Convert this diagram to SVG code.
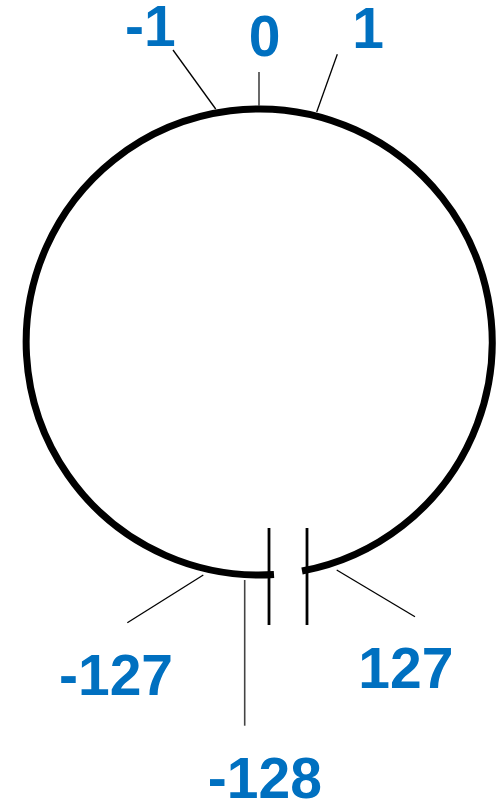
<svg xmlns="http://www.w3.org/2000/svg" width="500" height="803" viewBox="0 0 500 803">
<style>
.lbl{font-family:"Liberation Sans",Arial,sans-serif;font-weight:bold;font-size:57px;fill:#0070C0;text-anchor:middle}
.ring{fill:none;stroke:#000;stroke-width:7;stroke-linecap:butt}
.lead{stroke:#000;stroke-width:1.3;fill:none}
.lead2{stroke:#444;stroke-width:1.6;fill:none}
.bar{stroke:#000;stroke-width:2.8}
</style>
<rect width="500" height="803" fill="#fff"/>
<g id="ring">
<path class="ring" d="M 302 571 A 233 233 0 1 0 274 574.5"/>
</g>
<g id="gap">
<line class="bar" x1="269" y1="528" x2="269" y2="625"/>
<line class="bar" x1="307" y1="528" x2="307" y2="625"/>
</g>
<g id="connectors">
<line class="lead2" x1="259" y1="72" x2="259" y2="106"/>
<line class="lead" x1="173" y1="50" x2="215.7" y2="109"/>
<line class="lead" x1="337.3" y1="54.3" x2="316.7" y2="112"/>
<line class="lead" x1="127.3" y1="622.7" x2="203.3" y2="575"/>
<line class="lead2" x1="244.7" y1="580" x2="244.7" y2="725.7"/>
<line class="lead" x1="336.7" y1="570" x2="415" y2="616.7"/>
</g>
<g id="label-0"><text class="lbl" x="264.7" y="56">0</text></g>
<g id="label-m1"><text class="lbl" x="150.3" y="46">-1</text></g>
<g id="label-1"><text class="lbl" x="368" y="48">1</text></g>
<g id="label-m127"><text class="lbl" x="116" y="695">-127</text></g>
<g id="label-127"><text class="lbl" x="405.8" y="688">127</text></g>
<g id="label-m128"><text class="lbl" x="264.9" y="798">-128</text></g>
</svg>
